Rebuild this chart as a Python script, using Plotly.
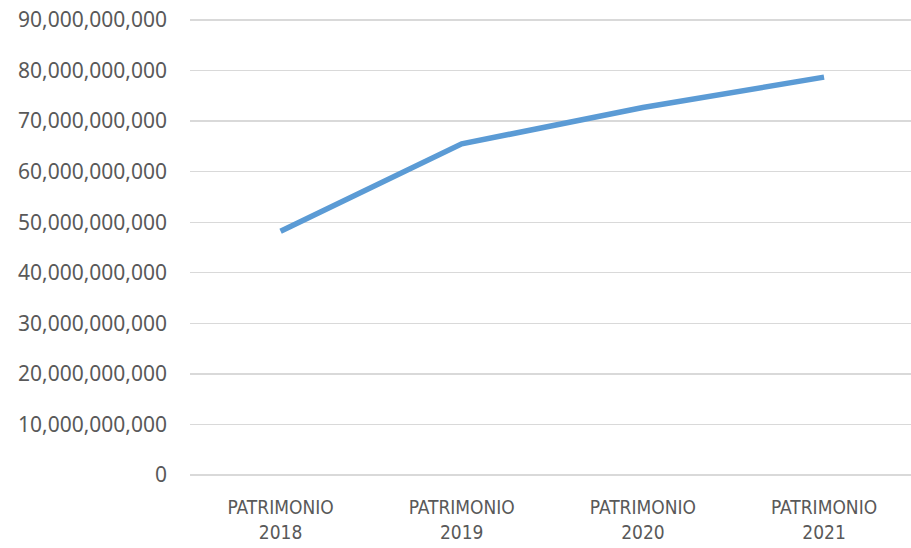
import plotly.graph_objects as go

categories = ["PATRIMONIO<br>2018", "PATRIMONIO<br>2019", "PATRIMONIO<br>2020", "PATRIMONIO<br>2021"]
values = [48.2e9, 65.5e9, 72.7e9, 78.7e9]
y_ticks = [0, 10e9, 20e9, 30e9, 40e9, 50e9, 60e9, 70e9, 80e9, 90e9]
y_ticktext = ["0"] + [f"{int(v):,}" for v in y_ticks[1:]]

fig = go.Figure()
fig.add_trace(go.Scatter(
    x=list(range(len(categories))), y=values, mode="lines",
    line=dict(color="#5B9BD5", width=5.5),
    hoverinfo="skip", showlegend=False,
))

fig.update_layout(
    width=911, height=548,
    margin=dict(l=190, r=0, t=19, b=73),
    paper_bgcolor="white", plot_bgcolor="white",
    xaxis=dict(
        range=[-0.5, 3.48], tickmode="array", automargin=False,
        tickvals=list(range(len(categories))), ticktext=categories,
        showgrid=False, zeroline=False, showline=False, ticks="",
        tickfont=dict(family="Liberation Sans Narrow, DejaVu Sans Condensed, Roboto Condensed, Roboto",
                      size=19, color="#595959"),
        ticklabelstandoff=19, ticklabeloverflow="allow",
    ),
    yaxis=dict(
        range=[0, 90.2e9], tickmode="array", tickvals=y_ticks, ticktext=y_ticktext,
        automargin=False,
        showgrid=True, gridcolor="#D9D9D9", gridwidth=1.3,
        zeroline=True, zerolinecolor="#D9D9D9", zerolinewidth=1.3,
        showline=False, ticks="",
        tickfont=dict(family="Noto Sans", size=21, color="#595959"),
        ticklabelstandoff=22, ticklabeloverflow="allow",
    ),
)

fig.write_html("out.html", config={"displayModeBar": False, "staticPlot": True},
               post_script="document.body.style.margin='0';")
